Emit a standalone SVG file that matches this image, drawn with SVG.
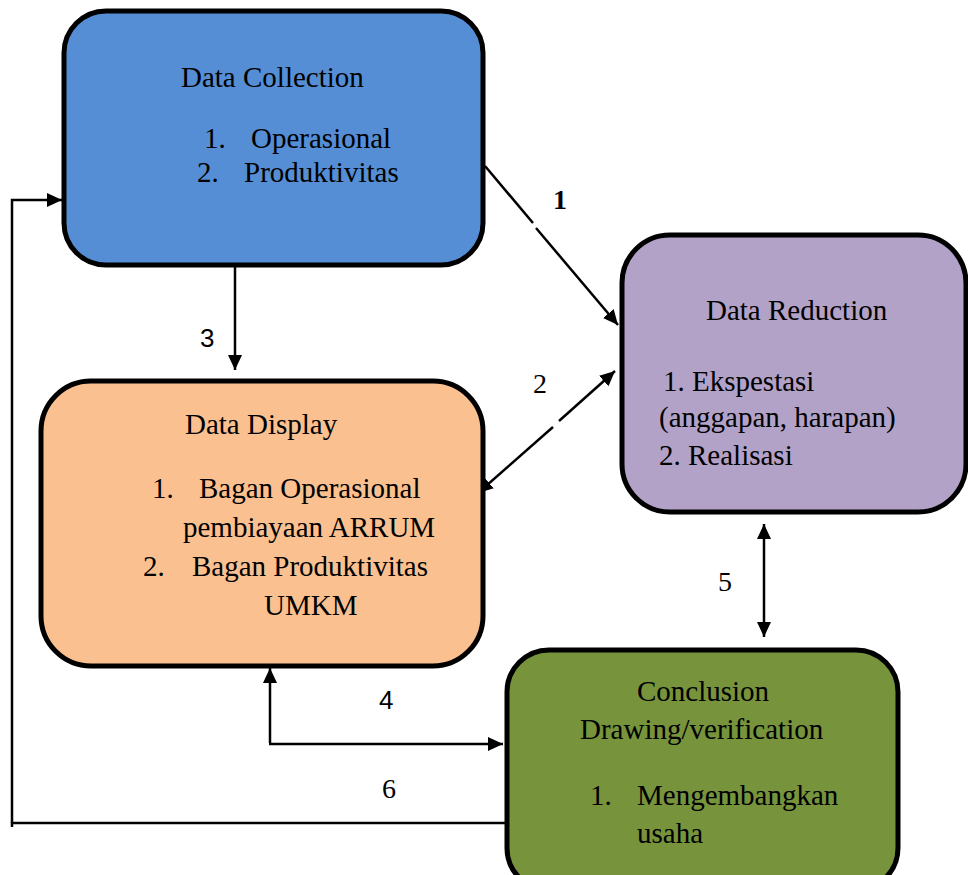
<svg xmlns="http://www.w3.org/2000/svg" width="968" height="875" viewBox="0 0 968 875">
  <style>
    .box { stroke: #000; stroke-width: 5; }
    .t { font-family: "Liberation Serif", "Times New Roman", serif; font-size: 29px; fill: #000; }
    .num { font-family: "Liberation Serif", "Times New Roman", serif; font-size: 28px; fill: #000; }
    .sans { font-family: "Liberation Sans", Arial, sans-serif; font-size: 26px; fill: #000; }
    .ln { stroke: #000; stroke-width: 2.5; fill: none; }
    .arr { marker-end: url(#head); }
    .arr2 { marker-start: url(#head); marker-end: url(#head); }
  </style>
  <defs>
    <marker id="head" markerUnits="userSpaceOnUse" markerWidth="16" markerHeight="15" refX="15" refY="7" orient="auto-start-reverse" viewBox="0 0 16 15">
      <path d="M0,0 L15,7 L0,14 z" fill="#000"/>
    </marker>
  </defs>
  <rect width="968" height="875" fill="#fff"/>

  <!-- connectors -->
  <g id="connectors">
    <!-- 1: collection -> reduction (drawn with a small break) -->
    <line class="ln" x1="485" y1="166" x2="533" y2="223"/>
    <line class="ln arr" x1="536" y1="228" x2="618" y2="325"/>
    <!-- 2: display <-> reduction -->
    <line class="ln" x1="478" y1="493" x2="553" y2="427" marker-start="url(#head)"/>
    <line class="ln" x1="559" y1="421" x2="615" y2="371" marker-end="url(#head)"/>
    <!-- 3: collection -> display -->
    <line class="ln arr" x1="235" y1="267" x2="235" y2="370"/>
    <!-- 4: display <-> conclusion -->
    <line class="ln arr" x1="270" y1="743" x2="270" y2="668"/>
    <line class="ln arr" x1="269" y1="744" x2="503" y2="744"/>
    <!-- 5: reduction <-> conclusion -->
    <line class="ln arr2" x1="764" y1="524" x2="764" y2="637"/>
    <!-- 6: conclusion back to collection -->
    <polyline class="ln" points="510,823 12,823 12,827"/>
    <polyline class="ln arr" points="12,823 12,200 62,200"/>
  </g>

  <!-- labels on connectors -->
  <g id="labels">
    <text class="num" x="553" y="209" font-weight="bold" font-size="31">1</text>
    <text class="num" x="533" y="393">2</text>
    <text class="sans" x="200" y="347">3</text>
    <text class="sans" x="379" y="709">4</text>
    <text class="num" x="718" y="591">5</text>
    <text class="num" x="382" y="798">6</text>
  </g>

  <g id="data-collection">
    <rect class="box" x="64" y="11" width="419" height="254" rx="42" fill="#558ED5"/>
    <text class="t" x="181" y="87">Data Collection</text>
    <text class="t" x="204" y="148">1.</text>
    <text class="t" x="251" y="148">Operasional</text>
    <text class="t" x="197" y="182">2.</text>
    <text class="t" x="244" y="182">Produktivitas</text>
  </g>

  <g id="data-display">
    <rect class="box" x="41" y="381" width="442" height="285" rx="50" fill="#FAC090"/>
    <text class="t" x="185" y="434">Data Display</text>
    <text class="t" x="152" y="498">1.</text>
    <text class="t" x="199" y="498">Bagan Operasional</text>
    <text class="t" x="183" y="537">pembiayaan ARRUM</text>
    <text class="t" x="143" y="576">2.</text>
    <text class="t" x="192" y="576">Bagan Produktivitas</text>
    <text class="t" x="264" y="615">UMKM</text>
  </g>

  <g id="data-reduction">
    <rect class="box" x="622" y="235" width="344" height="277" rx="48" fill="#B3A2C7"/>
    <text class="t" x="706" y="320">Data Reduction</text>
    <text class="t" x="663" y="391">1. Ekspestasi</text>
    <text class="t" x="659" y="427">(anggapan, harapan)</text>
    <text class="t" x="659" y="465">2. Realisasi</text>
  </g>

  <g id="conclusion">
    <rect class="box" x="507" y="650" width="391" height="240" rx="42" fill="#77933C"/>
    <text class="t" x="637" y="701">Conclusion</text>
    <text class="t" x="580" y="739">Drawing/verification</text>
    <text class="t" x="590" y="805">1.</text>
    <text class="t" x="637" y="805">Mengembangkan</text>
    <text class="t" x="637" y="843">usaha</text>
  </g>
</svg>
